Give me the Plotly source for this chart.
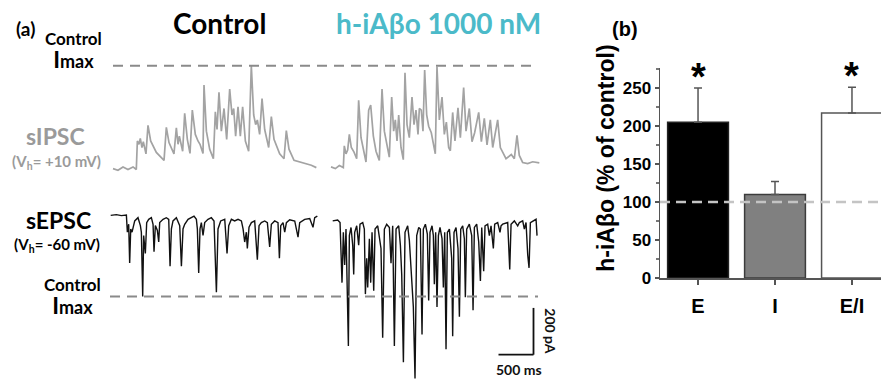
import plotly.graph_objects as go

W, H = 881, 391
MS_PER_PX = 500 / 35      # horizontal calibration of panel (a)
PA_PER_PX = 200 / 48      # vertical calibration of panel (a)

# ---------------- panel (a) traces: time (ms) / current (pA, rel. to baseline)
ctrl_ipsc_t = [0, 71, 143, 214, 286, 333, 348, 371, 390, 414, 433, 471, 500, 538, 619, 729,
               762, 800, 871, 905, 929, 948, 995, 1024, 1062, 1100, 1133, 1176, 1214, 1243,
               1286, 1300, 1334, 1381, 1434, 1462, 1486, 1514, 1548, 1586, 1624, 1667, 1700,
               1724, 1752, 1786, 1819, 1852, 1891, 1938, 1976, 2010, 2038, 2062, 2095, 2129,
               2167, 2224, 2262, 2300, 2381, 2443, 2476, 2514, 2586, 2667, 2762, 2833, 2905]
ctrl_ipsc_i = [0, -7, 7, -4, 7, -4, 118, 104, 129, 90, 115, 63, 185, 118, 69, 35,
               176, 111, 63, 174, 104, 139, 74, 236, 125, 65, 250, 146, 118, 104,
               65, 357, 160, 83, 42, 243, 167, 326, 160, 257, 125, 340, 229,
               257, 139, 264, 139, 264, 118, 74, 440, 229, 188, 208, 146, 299,
               167, 90, 222, 125, 63, 42, 162, 83, 35, 28, 21, 14, 4]

drug_ipsc_t = [0, 62, 119, 176, 190, 214, 238, 262, 290, 329, 367, 395, 429, 462, 500, 538,
               567, 605, 643, 690, 729, 762, 800, 833, 867, 895, 919, 943, 967, 1000, 1033,
               1057, 1086, 1119, 1157, 1186, 1214, 1243, 1262, 1290, 1314, 1338, 1367, 1395,
               1433, 1462, 1490, 1514, 1548, 1586, 1619, 1648, 1681, 1705, 1738, 1771, 1814,
               1848, 1895, 1929, 1976, 2014, 2052, 2110, 2148, 2190, 2229, 2276, 2310, 2381,
               2419, 2500, 2576, 2619, 2657, 2690, 2738, 2810, 2881, 2976]
drug_ipsc_i = [0, -7, 6, -3, 90, 56, 72, 139, 83, 63, 35, 285, 125, 69, 21, 243,
               264, 132, 67, 28, 333, 153, 83, 42, 299, 153, 201, 111, 222, 83, 31,
               403, 181, 125, 299, 181, 243, 139, 250, 243, 153, 414, 222, 174,
               146, 90, 56, 428, 201, 299, 139, 192, 83, 69, 233, 111, 253,
               125, 339, 153, 250, 108, 146, 233, 108, 208, 94, 201, 83, 201,
               83, 35, 53, 35, 135, 49, 19, 14, 22, 17]

ctrl_epsc_t = [0, 81, 152, 224, 238, 257, 271, 286, 305, 343, 390, 424, 438, 448, 457, 471,
               495, 514, 543, 581, 605, 619, 638, 667, 686, 700, 748, 795, 829, 848, 867,
               890, 938, 986, 1010, 1033, 1057, 1105, 1152, 1190, 1224, 1238, 1257, 1276,
               1295, 1319, 1343, 1390, 1438, 1476, 1510, 1533, 1571, 1629, 1662, 1686, 1724,
               1771, 1819, 1867, 1891, 1914, 1938, 1952, 1976, 2010, 2057, 2095, 2119, 2152,
               2200, 2238, 2271, 2295, 2343, 2390, 2410, 2429, 2462, 2486, 2510, 2557, 2629,
               2676, 2700, 2771, 2843, 2890, 2914, 2952]
ctrl_epsc_i = [0, 3, -1, 1, -72, -38, -204, -58, -72, -24, -10, -44, -72, -347, -347, -86,
               -163, -31, -17, -10, -38, -156, -44, -65, -114, -31, -17, -10, -17, -218, -58,
               -24, -10, -44, -218, -58, -38, -17, -10, -3, -17, -58, -246, -58,
               -31, -86, -31, -17, -10, -24, -329, -58, -24, -17, -163, -44, -17,
               -24, -17, -24, -58, -114, -72, -142, -51, -31, -24, -190, -44, -31,
               -24, -31, -135, -38, -24, -31, -183, -44, -31, -72, -31, -19, -24,
               -93, -31, -17, -14, -51, -10, -3]

drug_epsc_t = [0, 71, 105, 119, 133, 152, 171, 190, 210, 224, 238, 262, 286, 300, 314, 343,
               371, 390, 429, 452, 467, 486, 500, 524, 543, 562, 586, 605, 643, 667, 690,
               714, 738, 771, 810, 833, 857, 881, 905, 943, 967, 986, 1010, 1033, 1071,
               1095, 1133, 1152, 1176, 1200, 1229, 1252, 1276, 1295, 1324, 1352, 1371, 1390,
               1419, 1438, 1452, 1471, 1490, 1510, 1533, 1562, 1581, 1600, 1619, 1638, 1667,
               1700, 1714, 1733, 1762, 1790, 1810, 1829, 1857, 1881, 1895, 1914, 1952, 1986,
               2005, 2024, 2057, 2086, 2110, 2129, 2157, 2176, 2214, 2238, 2262, 2295, 2314,
               2357, 2390, 2405, 2429, 2500, 2529, 2548, 2595, 2643, 2667, 2714, 2738, 2762,
               2786, 2805, 2824, 2857, 2905, 2919]
drug_epsc_i = [0, 4, -7, -104, -264, -49, -188, -35, -313, -535, -63, -28, -104, -229, -49, -21,
               -104, -14, -7, -35, -313, -160, -285, -76, -264, -49, -299, -35, -21, -63, -118,
               -500, -35, -14, -28, -181, -21, -535, -35, -21, -104, -229, -604, -49, -21,
               -83, -271, -368, -674, -63, -28, -35, -486, -35, -14, -56, -340, -49,
               -21, -63, -271, -49, -368, -63, -28, -76, -285, -49, -549, -49, -35,
               -160, -493, -49, -28, -118, -410, -35, -21, -76, -326, -35, -14, -63,
               -382, -28, -14, -90, -257, -28, -215, -21, -14, -63, -21, -118, -14,
               -7, -49, -21, -14, -7, -208, -14, 0, -21, -7, 0, -35, -7,
               -146, -201, -7, 0, 7, -63]

SCALE_MS = 500
SCALE_PA = 200

# ---------------- panel (b) bar chart
bar_cats = ["E", "I", "E/I"]
bar_vals = [205, 110, 217]
bar_errs = [45, 17, 34]
bar_sig = ["*", "", "*"]
ytick_vals = [0, 50, 100, 150, 200, 250]

# ---------------- placement (pixel origin of each trace on the canvas)
ORIG = {
    "ctrl_ipsc": (113, 173),
    "drug_ipsc": (331, 171.3),
    "ctrl_epsc": (110.7, 221),
    "drug_epsc": (332.7, 226.7),
}


def place(ts, cs, key):
    ox, oy = ORIG[key]
    return [ox * MS_PER_PX + t for t in ts], [-oy * PA_PER_PX + c for c in cs]


def xa(px):
    return px * MS_PER_PX


def ya(py):
    return -py * PA_PER_PX


def px2paper(px, py):
    return px / W, 1 - py / H


fig = go.Figure()

IPSC_COLOR = "#a3a3a3"
EPSC_COLOR = "#111111"
for key, ts, cs, col, lw in [
    ("ctrl_ipsc", ctrl_ipsc_t, ctrl_ipsc_i, IPSC_COLOR, 1.7),
    ("drug_ipsc", drug_ipsc_t, drug_ipsc_i, IPSC_COLOR, 1.7),
    ("ctrl_epsc", ctrl_epsc_t, ctrl_epsc_i, EPSC_COLOR, 1.4),
    ("drug_epsc", drug_epsc_t, drug_epsc_i, EPSC_COLOR, 1.4),
]:
    x, y = place(ts, cs, key)
    fig.add_trace(go.Scatter(x=x, y=y, mode="lines", line=dict(color=col, width=lw),
                             hoverinfo="skip", showlegend=False, xaxis="x", yaxis="y"))

# Control Imax dashed reference lines
ipsc_imax_y = ya(ORIG["ctrl_ipsc"][1]) + max(ctrl_ipsc_i)
epsc_imax_y = ya(ORIG["ctrl_epsc"][1]) + min(ctrl_epsc_i)
DASH_COL = "#8a8a8a"
fig.add_shape(type="line", xref="x", yref="y", x0=xa(113), x1=xa(534),
              y0=ipsc_imax_y, y1=ipsc_imax_y, line=dict(color=DASH_COL, width=2, dash="10px,7px"))
fig.add_shape(type="line", xref="x", yref="y", x0=xa(110), x1=xa(538),
              y0=epsc_imax_y, y1=epsc_imax_y, line=dict(color=DASH_COL, width=2, dash="10px,7px"))

# scale bar
sb_x, sb_y = xa(533.5), ya(364)
fig.add_shape(type="line", xref="x", yref="y", x0=sb_x - SCALE_MS, x1=sb_x, y0=sb_y, y1=sb_y,
              line=dict(color="#111", width=1.8))
fig.add_shape(type="line", xref="x", yref="y", x0=sb_x, x1=sb_x, y0=sb_y, y1=sb_y + SCALE_PA,
              line=dict(color="#111", width=1.8))

# bars
fig.add_trace(go.Bar(
    x=bar_cats, y=bar_vals, width=0.79,
    marker=dict(color=["#000000", "#808080", "#ffffff"],
                line=dict(color=["#222222", "#3c3c3c", "#555555"], width=1.5)),
    error_y=dict(type="data", symmetric=False, array=bar_errs, arrayminus=[0, 0, 0],
                 color="#555555", thickness=1.5, width=4),
    xaxis="x2", yaxis="y2", showlegend=False, hoverinfo="skip"))

fig.add_shape(type="line", xref="x2 domain", yref="y2", x0=0, x1=1, y0=100, y1=100,
              line=dict(color="#c4c4c4", width=2.5, dash="10px,6px"), layer="above")

# ---------------- text
anns = []
LAT = "Lato"


def ann(text, px, py, size, color="#000", family=LAT, angle=0, bold=True, xanchor="center"):
    x, y = px2paper(px, py)
    anns.append(dict(text=text, x=x, y=y, xref="paper", yref="paper", showarrow=False,
                     xanchor=xanchor, yanchor="middle", textangle=angle, align="center",
                     font=dict(family=family, size=size, color=color,
                               weight="bold" if bold else "normal")))


TEAL = "#4bbac9"
GREY_TXT = "#9a9a9a"
CTRL_IMAX = ("<span style='font-size:17px'>Control</span><br>"
             "<span style='font-size:23px'>I</span>max")
ann("(a)", 25, 29, 19)
ann("Control", 219, 24, 28)
ann("h-iAβo 1000 nM", 438, 24, 28, TEAL)
ann(CTRL_IMAX, 73, 52, 18)
ann("sIPSC", 55, 140, 23, GREY_TXT)
ann("(V<sub>h</sub>= +10 mV)", 56, 166, 15, GREY_TXT)
ann("sEPSC", 58, 226, 23)
ann("(V<sub>h</sub>= -60 mV)", 57, 251, 15)
ann(CTRL_IMAX, 72, 304, 18)
ann("200 pA", 551, 340, 14, "#111", angle=90)
ann("500 ms", 519, 379, 14, "#111")

ARIAL = "Liberation Sans"
ann("(b)", 625, 30, 20, family=ARIAL)
ann("h-iAβo (% of control)", 606, 163, 23, family=ARIAL, angle=-90)

for cat, v, e, s in zip(bar_cats, bar_vals, bar_errs, bar_sig):
    if s:
        anns.append(dict(text=s, x=cat, y=v + e, xref="x2", yref="y2", showarrow=False,
                         yanchor="bottom", yshift=-12,
                         font=dict(family=ARIAL, size=38, color="#000", weight="bold")))

fig.update_layout(
    width=W, height=H, margin=dict(l=0, r=0, t=0, b=0),
    paper_bgcolor="white", plot_bgcolor="rgba(0,0,0,0)",
    annotations=anns, bargap=0,
    xaxis=dict(domain=[0, 1], range=[0, W * MS_PER_PX], visible=False, fixedrange=True),
    yaxis=dict(domain=[0, 1], range=[-H * PA_PER_PX, 0], visible=False, fixedrange=True),
    xaxis2=dict(domain=[660 / W, 1], anchor="y2", type="category", range=[-0.494, 2.377],
                showline=True, linecolor="#555", linewidth=1.5, ticks="outside", ticklen=5,
                tickcolor="#555", tickwidth=1.5, showgrid=False, zeroline=False,
                ticklabelstandoff=4,
                tickfont=dict(family=ARIAL, size=20, color="#000", weight="bold")),
    yaxis2=dict(domain=[1 - 285.3 / H, 1 - 70 / H], anchor="x2", range=[0, 276],
                tickvals=ytick_vals, showline=True, linecolor="#555", linewidth=1.5,
                ticks="outside", ticklen=4, tickcolor="#555", tickwidth=1.5,
                minor=dict(dtick=25, ticklen=2.5, tickcolor="#777", ticks="outside", tick0=0),
                showgrid=False, zeroline=False,
                tickfont=dict(family=ARIAL, size=17, color="#000", weight="bold")),
)

fig.write_html("out.html", config={"displayModeBar": False, "staticPlot": True},
               post_script="document.body.style.margin='0px';")
